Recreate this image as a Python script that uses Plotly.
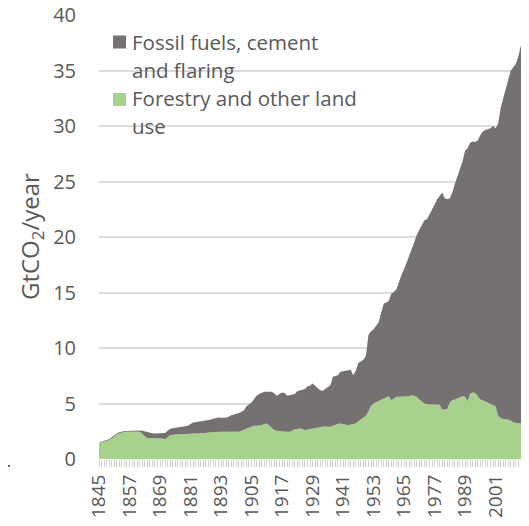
import plotly.graph_objects as go

years = list(range(1845, 2012))

land_use = [
    1.48, 1.55, 1.60, 1.65, 1.70, 1.85, 2.05, 2.20, 2.30, 2.40,  # 1845-1854
    2.45, 2.45, 2.45, 2.45, 2.45, 2.45, 2.45, 2.30, 2.05, 1.90,  # 1855-1864
    1.88, 1.85, 1.85, 1.85, 1.85, 1.85, 1.78, 1.95, 2.15, 2.18,  # 1865-1874
    2.20, 2.20, 2.25, 2.28, 2.30, 2.30, 2.30, 2.30, 2.30, 2.30,  # 1875-1884
    2.30, 2.32, 2.35, 2.38, 2.40, 2.45, 2.45, 2.45, 2.45, 2.45,  # 1885-1894
    2.45, 2.45, 2.45, 2.42, 2.40, 2.45, 2.55, 2.65, 2.75, 2.80,  # 1895-1904
    2.90, 3.00, 3.00, 3.00, 3.05, 3.15, 3.20, 3.00, 2.80, 2.60,  # 1905-1914
    2.55, 2.50, 2.48, 2.45, 2.45, 2.45, 2.55, 2.70, 2.70, 2.75,  # 1915-1924
    2.70, 2.60, 2.65, 2.70, 2.75, 2.80, 2.85, 2.90, 2.95, 2.95,  # 1925-1934
    2.90, 2.90, 3.00, 3.10, 3.15, 3.20, 3.15, 3.05, 3.05, 3.10,  # 1935-1944
    3.15, 3.20, 3.40, 3.55, 3.70, 3.90, 4.30, 4.80, 5.00, 5.10,  # 1945-1954
    5.20, 5.30, 5.40, 5.55, 5.65, 5.30, 5.45, 5.60, 5.60, 5.62,  # 1955-1964
    5.62, 5.65, 5.65, 5.75, 5.70, 5.60, 5.35, 5.15, 5.00, 4.95,  # 1965-1974
    4.92, 4.90, 4.90, 4.90, 4.88, 4.45, 4.48, 4.50, 5.10, 5.30,  # 1975-1984
    5.35, 5.45, 5.55, 5.65, 5.60, 5.20, 5.90, 6.00, 5.95, 5.70,  # 1985-1994
    5.35, 5.30, 5.20, 5.05, 4.95, 4.85, 4.75, 3.90, 3.70, 3.60,  # 1995-2004
    3.60, 3.55, 3.45, 3.30, 3.25, 3.22, 3.20,                    # 2005-2011
]

fossil = [
    0.02, 0.03, 0.05, 0.07, 0.08, 0.10, 0.10, 0.10, 0.10, 0.10,  # 1845-1854
    0.08, 0.08, 0.10, 0.10, 0.12, 0.12, 0.12, 0.25, 0.43, 0.50,  # 1855-1864
    0.47, 0.47, 0.45, 0.45, 0.45, 0.45, 0.57, 0.60, 0.58, 0.58,  # 1865-1874
    0.60, 0.65, 0.65, 0.66, 0.68, 0.70, 0.85, 0.98, 1.02, 1.05,  # 1875-1884
    1.08, 1.08, 1.10, 1.12, 1.15, 1.17, 1.25, 1.30, 1.27, 1.25,  # 1885-1894
    1.27, 1.35, 1.50, 1.58, 1.65, 1.70, 1.70, 1.75, 2.00, 2.15,  # 1895-1904
    2.20, 2.40, 2.70, 2.85, 2.90, 2.90, 2.85, 3.05, 3.25, 3.30,  # 1905-1914
    3.15, 3.35, 3.52, 3.50, 3.25, 3.30, 3.25, 3.15, 3.40, 3.45,  # 1915-1924
    3.55, 3.70, 3.90, 3.90, 4.05, 3.80, 3.55, 3.30, 3.20, 3.35,  # 1925-1934
    3.60, 3.75, 4.40, 4.35, 4.40, 4.65, 4.75, 4.90, 4.95, 4.95,  # 1935-1944
    4.40, 4.75, 5.25, 5.25, 5.25, 5.40, 6.90, 6.70, 6.70, 6.90,  # 1945-1954
    7.10, 7.90, 8.60, 8.55, 8.60, 9.60, 9.60, 9.70, 10.40, 10.98,  # 1955-1964
    11.48, 12.05, 12.55, 13.15, 13.80, 14.60, 15.25, 15.85, 16.50, 16.65,  # 1965-1974
    17.08, 17.50, 18.00, 18.50, 18.82, 19.55, 19.02, 18.90, 18.40, 18.70,  # 1975-1984
    19.45, 20.05, 20.55, 21.15, 22.20, 22.80, 22.60, 22.60, 22.60, 23.00,  # 1985-1994
    23.85, 24.20, 24.45, 24.70, 24.85, 25.15, 25.05, 26.30, 27.90, 28.90,  # 1995-2004
    29.80, 30.75, 31.55, 32.00, 32.35, 33.08, 34.10,                       # 2005-2011
]

tick_years = list(range(1845, 2002, 12))
y_ticks = [0, 5, 10, 15, 20, 25, 30, 35, 40]

series_names = ["Fossil fuels, cement", "and flaring", "Forestry and other land", "use"]
y_title = "GtCO<sub>2</sub>/year"

GREEN = "#A9D18E"
GREY = "#767171"
TEXT = "#595959"
FONT = "Open Sans"

fig = go.Figure()
fig.add_trace(go.Scatter(x=years, y=land_use, stackgroup="one", mode="lines",
                         line=dict(width=0, color=GREEN), fillcolor=GREEN,
                         name="Forestry and other land use", showlegend=False))
fig.add_trace(go.Scatter(x=years, y=fossil, stackgroup="one", mode="lines",
                         line=dict(width=0, color=GREY), fillcolor=GREY,
                         name="Fossil fuels, cement and flaring", showlegend=False))

# The page places the figure 8px in from the top-left corner (body margin);
# the figure is sized so the page does not overflow, and its margins set so
# the plot area lands where the reference has it (page px: x 99..521, y 15..459).
OFF = 8
W, H = 529 - OFF, 526 - 2 * OFF
L, R = 99 - OFF, 8
T, B = 15 - OFF, H - (459 - OFF)
pw, ph = W - L - R, H - T - B

def px(x):  # page pixel x -> paper
    return (x - OFF - L) / pw

def py(y):  # page pixel y -> paper
    return (H - B - (y - OFF)) / ph

shapes = [
    dict(type="rect", xref="paper", yref="paper", x0=px(113), x1=px(126), y0=py(48.5), y1=py(35.5),
         fillcolor=GREY, line=dict(width=0)),
    dict(type="rect", xref="paper", yref="paper", x0=px(113), x1=px(126), y0=py(106), y1=py(93),
         fillcolor=GREEN, line=dict(width=0)),
    dict(type="line", xref="paper", yref="paper", x0=px(8), x1=px(10), y0=py(466), y1=py(466),
         line=dict(color="#333333", width=1.5)),
]

annotations = []
for name, base in zip(series_names, [49, 77, 105, 133]):
    annotations.append(dict(text=name, xref="paper", yref="paper", x=px(130), y=py(base - 7),
                            xanchor="left", yanchor="middle", showarrow=False,
                            font=dict(family=FONT, size=20.5, color=TEXT)))
annotations.append(dict(text=y_title, xref="paper", yref="paper", x=px(31), y=py(237),
                        xanchor="center", yanchor="middle", textangle=-90, showarrow=False,
                        font=dict(family=FONT, size=24, color=TEXT)))

fig.update_layout(
    width=W, height=H,
    margin=dict(l=L, r=R, t=T, b=B, pad=0, autoexpand=False),
    paper_bgcolor="white", plot_bgcolor="white",
    font=dict(family=FONT, size=20, color=TEXT),
    shapes=shapes, annotations=annotations,
    showlegend=False,
    xaxis=dict(range=[1845, 2011], tickmode="array", tickvals=tick_years,
               ticktext=[str(t) for t in tick_years], tickangle=-90,
               ticks="outside", ticklen=7, tickcolor="#d0d0d0", tickwidth=1,
               ticklabelstandoff=0, ticklabeloverflow="allow",
               minor=dict(dtick=1, tick0=1845, ticks="outside", ticklen=7, tickcolor="#d0d0d0", tickwidth=1),
               showgrid=False, zeroline=False, showline=False, automargin=False,
               tickfont=dict(family=FONT, size=19, color=TEXT)),
    yaxis=dict(range=[0, 40], tickvals=y_ticks, ticks="outside", ticklen=18,
               tickcolor="rgba(0,0,0,0)", showgrid=True, gridcolor="#dcdcdc", gridwidth=2,
               zeroline=False, showline=False, automargin=False, ticklabeloverflow="allow",
               tickfont=dict(family=FONT, size=20, color=TEXT)),
)

fig.write_html("out.html")
